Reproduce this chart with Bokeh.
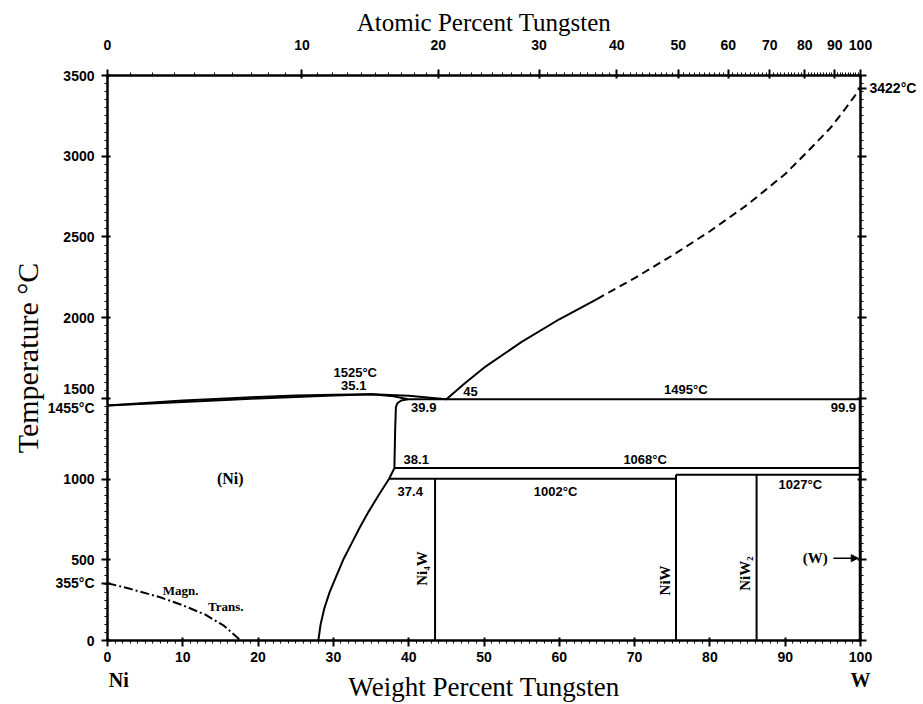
import numpy as np
from bokeh.plotting import figure
from bokeh.models import (LinearAxis, SingleIntervalTicker, FixedTicker,
                          CustomJSTickFormatter, Label, Arrow, NormalHead)
from bokeh.embed import file_html
from bokeh.resources import INLINE

# ---------------- data (wt.% W, temperature in degC) ----------------
liq_left_wt = [0, 5, 10, 15, 20, 25, 30, 35.1, 40, 45]
liq_left_T = [1455, 1471, 1486, 1498, 1509, 1517, 1522, 1525, 1516, 1495]
sol_left_wt = [0, 5, 10, 15, 20, 25, 30, 35.1, 38, 39.9]
sol_left_T = [1455, 1466, 1477, 1488, 1499, 1509, 1518, 1525, 1513, 1495]

ni_solvus_wt = [39.9, 39.0, 38.5, 38.3, 38.2, 38.1, 37.4, 36.0, 34.7, 33.5, 32.4,
                31.3, 30.4, 29.5, 28.8, 28.3, 28.0]
ni_solvus_T = [1495, 1487, 1470, 1445, 1300, 1068, 1002, 900, 800, 700, 600,
               500, 400, 300, 200, 100, 0]

liq_right_wt = [45, 47.5, 50, 55, 60, 65]
liq_right_T = [1495, 1595, 1690, 1850, 1990, 2115]
liq_dash_wt = [65, 70, 75, 80, 85, 90, 93, 96, 98, 100]
liq_dash_T = [2115, 2245, 2385, 2535, 2700, 2890, 3030, 3175, 3295, 3422]

magn_wt = [0, 3, 7, 10, 13, 15.5, 17.7]
magn_T = [355, 320, 268, 218, 160, 90, 0]

# invariant (horizontal) lines: start wt, end wt, temperature
iso_start = [39.9, 38.1, 37.4, 75.5]
iso_end = [100, 100, 75.5, 100]
iso_T = [1495, 1068, 1002, 1027]

# compounds (vertical lines): composition, top temperature
comp_wt = [43.5, 75.5, 86.2, 99.9]
comp_top = [1002, 1027, 1027, 1495]

at_major = [0, 10, 20, 30, 40, 50, 60, 70, 80, 90, 100]
at_minor = list(range(0, 101))

temp_major = [0, 355, 500, 1000, 1500, 2000, 2500, 3000, 3500]
temp_minor = list(range(0, 3501, 50))
right_major = [0, 500, 1000, 1500, 2000, 2500, 3000, 3422, 3500]

M_W, M_NI = 183.84, 58.69


def wt_from_at(a):
    return 100.0 * a * M_W / (a * M_W + (100.0 - a) * M_NI)


# ---------------- figure ----------------
W, H = 920, 704
FL, FT, FW, FH = 107, 75, 753, 565
p = figure(width=W, height=H, x_range=(0, 100), y_range=(0, 3500),
           output_backend="svg", toolbar_location=None,
           min_border_left=FL, min_border_right=W - FL - FW,
           min_border_top=FT, min_border_bottom=H - FT - FH,
           background_fill_color="white", border_fill_color="white")
p.grid.visible = False
p.outline_line_color = "black"
p.outline_line_width = 2

TICK_FONT = "Liberation Sans"
SERIF = "Liberation Serif"

# bottom axis
xa = p.xaxis[0]
xa.ticker = SingleIntervalTicker(interval=10, num_minor_ticks=10)

# left axis
ya = p.yaxis[0]
ya.ticker = FixedTicker(ticks=temp_major, minor_ticks=temp_minor)
ya.formatter = CustomJSTickFormatter(code="""
    if (Math.abs(tick - 355) < 0.5) { return '355°C'; }
    if (Math.abs(tick - 1500) < 0.5) { return '1500\\n1455°C'; }
    return tick.toFixed(0);
""")
ya.axis_label = "Temperature °C"
ya.axis_label_text_font = SERIF
ya.axis_label_text_font_style = "normal"
ya.axis_label_text_font_size = "30px"
ya.axis_label_standoff = 1

# top axis: atomic percent
top = LinearAxis(
    ticker=FixedTicker(ticks=[wt_from_at(a) for a in at_major],
                       minor_ticks=[wt_from_at(a) for a in at_minor]),
    formatter=CustomJSTickFormatter(code="""
        const w = tick;
        if (w >= 99.999) { return '100'; }
        const a = (w / 183.84) / ((w / 183.84) + ((100 - w) / 58.69)) * 100;
        return Math.round(a).toString();
    """),
    axis_label="Atomic Percent Tungsten")
top.axis_label_text_font = SERIF
top.axis_label_text_font_style = "normal"
top.axis_label_text_font_size = "25px"
top.axis_label_standoff = 1
p.add_layout(top, "above")

# right axis: ticks, only the W melting point labelled
right = LinearAxis(ticker=FixedTicker(ticks=right_major, minor_ticks=temp_minor),
                   formatter=CustomJSTickFormatter(code="""
        if (Math.abs(tick - 3422) < 0.5) { return '3422°C'; }
        return '';
    """))
p.add_layout(right, "right")

for ax in [xa, ya, top, right]:
    ax.axis_line_width = 2
    ax.axis_line_color = "black"
    ax.major_tick_line_width = 2
    ax.major_tick_line_color = "black"
    ax.minor_tick_line_width = 1
    ax.minor_tick_line_color = "black"
    ax.major_tick_out = 6
    ax.major_tick_in = 3
    ax.minor_tick_out = 3
    ax.minor_tick_in = 0
    ax.major_label_text_font = TICK_FONT
    ax.major_label_text_font_style = "bold"
    ax.major_label_text_font_size = "14px"
    ax.major_label_text_color = "black"
    ax.axis_label_text_color = "black"
    ax.major_label_standoff = 5
ya.major_label_standoff = 7
top.major_label_standoff = 20
right.major_label_standoff = 3

# second bottom axis: element names and the axis title
elem = LinearAxis(ticker=FixedTicker(ticks=[1.5, 100], minor_ticks=[]),
                  formatter=CustomJSTickFormatter(code="return tick < 50 ? 'Ni' : 'W';"),
                  axis_label="Weight Percent Tungsten")
elem.axis_line_color = None
elem.major_tick_line_color = None
elem.minor_tick_line_color = None
elem.major_tick_out = 0
elem.major_tick_in = 0
elem.minor_tick_out = 0
elem.major_label_standoff = 4
elem.major_label_text_font = SERIF
elem.major_label_text_font_style = "bold"
elem.major_label_text_font_size = "20px"
elem.major_label_text_color = "black"
elem.axis_label_text_font = SERIF
elem.axis_label_text_font_style = "normal"
elem.axis_label_text_font_size = "27px"
elem.axis_label_text_color = "black"
elem.axis_label_standoff = -22
p.add_layout(elem, "below")

# ---------------- phase boundaries ----------------
LW = 2
p.line(liq_left_wt, liq_left_T, line_color="black", line_width=LW)
p.line(sol_left_wt, sol_left_T, line_color="black", line_width=LW)
p.line(ni_solvus_wt, ni_solvus_T, line_color="black", line_width=LW)
p.line(liq_right_wt, liq_right_T, line_color="black", line_width=LW)
p.line(liq_dash_wt, liq_dash_T, line_color="black", line_width=LW, line_dash="8 5")
p.line(magn_wt, magn_T, line_color="black", line_width=2, line_dash="9 3 2 3")
p.segment(x0=iso_start, y0=iso_T, x1=iso_end, y1=iso_T, line_color="black", line_width=LW)
p.segment(x0=comp_wt, y0=[0] * len(comp_wt), x1=comp_wt, y1=comp_top,
          line_color="black", line_width=LW)


# ---------------- labels ----------------
def lab(x, y, t, font=TICK_FONT, size="13px", style="bold", align="center",
        angle=0.0, base="middle"):
    p.add_layout(Label(x=x, y=y, text=t, text_font=font, text_font_size=size,
                       text_font_style=style, text_align=align,
                       text_baseline=base, angle=angle, text_color="black"))


lab(32.9, 1660, "1525°C")
lab(32.7, 1582, "35.1")
lab(48.2, 1543, "45")
lab(42.0, 1444, "39.9")
lab(76.8, 1555, "1495°C")
lab(99.4, 1444, "99.9", align="right")
lab(41.0, 1121, "38.1")
lab(40.2, 923, "37.4")
lab(59.5, 923, "1002°C")
lab(71.4, 1121, "1068°C")
lab(92.0, 966, "1027°C")

lab(16.3, 1004, "(Ni)", font=SERIF, size="16px")
lab(9.7, 310, "Magn.", font=SERIF, size="13px")
lab(15.7, 211, "Trans.", font=SERIF, size="13px")
lab(94.0, 514, "(W)", font=SERIF, size="15px")
lab(41.8, 446, "Ni₄W", font=SERIF, size="15px", angle=np.pi / 2)
lab(74.1, 372, "NiW", font=SERIF, size="15px", angle=np.pi / 2)
lab(84.7, 415, "NiW₂", font=SERIF, size="15px", angle=np.pi / 2)

p.add_layout(Arrow(end=NormalHead(size=7, fill_color="black", line_color="black"),
                   x_start=96.4, y_start=510, x_end=99.7, y_end=510,
                   line_color="black", line_width=1.5))

open("out.html", "w").write(file_html(p, INLINE))
